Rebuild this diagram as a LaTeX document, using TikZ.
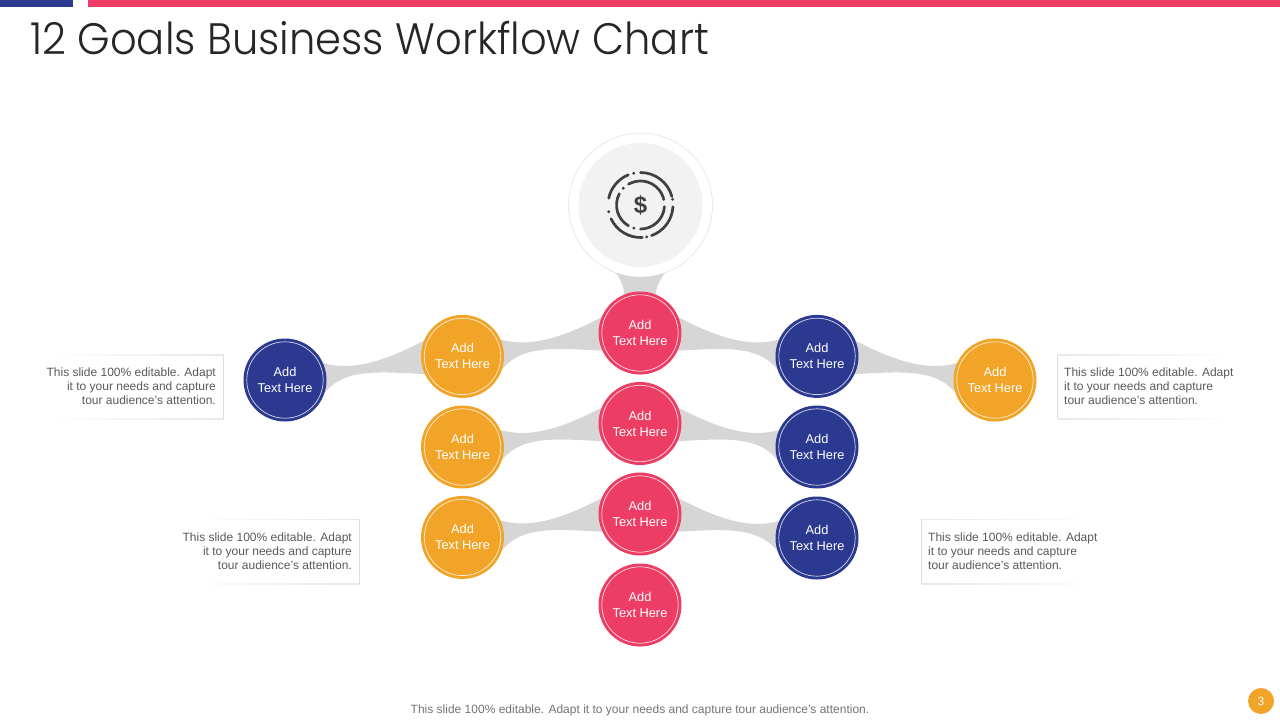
\documentclass[tikz,border=0pt]{standalone}
\usepackage{fontspec}
\setmainfont{Liberation Sans}
\newfontfamily\titlefont{Poppins}[UprightFont=* Light]
\usetikzlibrary{backgrounds}
\definecolor{goalpink}{HTML}{EE3D64}
\definecolor{goalorange}{HTML}{F1A428}
\definecolor{goalblue}{HTML}{2B3990}
\definecolor{ribbongray}{HTML}{D6D6D6}
\definecolor{boxgray}{HTML}{DDDDDD}
\definecolor{icongray}{HTML}{404040}
\tikzset{
    goal/.style={circle, minimum size=83pt, inner sep=0pt, text=white, align=center,
        font=\fontsize{12.8}{16}\selectfont,
        path picture={\draw[white, opacity=0.8, line width=0.7pt] (path picture bounding box.center) circle (38.2pt);}},
    ribbon/.style={fill=ribbongray},
    note/.style={inner sep=0pt, text=black!65, font=\fontsize{12}{14}\selectfont},
    iconline/.style={icongray, line width=2.7pt, line cap=round},
}
\begin{document}
\begin{tikzpicture}[x=1pt, y=-1pt]
        \useasboundingbox (0,0) rectangle (1280,720);
        % top bars and title
        \fill[goalblue] (0,0) rectangle (73,7);
        \fill[goalpink] (88,0) rectangle (1280,7);
        \node[anchor=west, inner sep=0pt, xscale=0.947, transform shape, text=black!85, font=\titlefont\fontsize{44}{50}\selectfont] (title) at (30,38) {12 Goals Business Workflow Chart};

        % hub
        \node[circle, draw=black!15, fill=white, minimum size=144pt, inner sep=0pt] (hub) at (640.5,205) {};
        \node[circle, fill=black!5, minimum size=124pt, inner sep=0pt] (hubin) at (640.5,205) {};
        \foreach \r/\s/\e in {32.5/-90/-15, 32.5/3/70, 32.5/87/155, 32.5/192/248, 24/240/343, 24/4/90, 24/120/208}{
            \draw[iconline] (hubin.center) ++(\s:\r) arc[start angle=\s, end angle=\e, radius=\r];
        }
        \foreach \r/\s in {32.5/258, 32.5/350, 32.5/79, 32.5/168, 24/224, 24/346, 24/106}{
            \fill[icongray] (hubin.center) ++(\s:\r) circle (1.6);
        }
        \node[text=icongray, inner sep=0pt, font=\bfseries\fontsize{24}{24}\selectfont] (dollar) at (hubin.center) {\$};

        % goals
        \foreach \n/\x/\y in {p1/640/333, p2/640/423.5, p3/640/514, p4/640/605}{
            \node[goal, fill=goalpink] (\n) at (\x,\y) {Add\\Text Here};
        }
        \foreach \n/\x/\y in {o1/462.5/356.4, o2/462.5/447, o3/462.5/537.4, o4/995/380}{
            \node[goal, fill=goalorange] (\n) at (\x,\y) {Add\\Text Here};
        }
        \foreach \n/\x/\y in {b1/817/356.4, b2/817/447, b3/817/538, b0/285/380}{
            \node[goal, fill=goalblue] (\n) at (\x,\y) {Add\\Text Here};
        }

        % ribbons behind the goals
        \begin{pgfonlayer}{background}
            \fill[ribbon] (hub.250) .. controls +(5,6) and +(-1,-8) .. (p1.112) -- (p1.68) .. controls +(1,-8) and +(-5,6) .. (hub.290) -- cycle;
            \foreach \a/\b in {o1/p1, o2/p2, o3/p3, b0/o1}{
                \fill[ribbon] (\a.24) .. controls +(32,9) and +(-35,18) .. (\b.158) -- (\b.205) .. controls +(-45,-2) and +(20,-25) .. (\a.-18) -- cycle;
            }
            \foreach \a/\b in {b1/p1, b2/p2, b3/p3, o4/b1}{
                \fill[ribbon] (\a.156) .. controls +(-32,9) and +(35,18) .. (\b.22) -- (\b.-25) .. controls +(45,-2) and +(-20,-25) .. (\a.198) -- cycle;
            }
        \end{pgfonlayer}

        % notes
        \node[note, anchor=east, align=right] (notea) at (216,386.5) {This slide 100\% editable. Adapt\\it to your needs and capture\\tour audience’s attention.};
        \node[note, anchor=east, align=right] (noteb) at (352,551.5) {This slide 100\% editable. Adapt\\it to your needs and capture\\tour audience’s attention.};
        \node[note, anchor=west, align=left] (notec) at (1064,386.5) {This slide 100\% editable. Adapt\\it to your needs and capture\\tour audience’s attention.};
        \node[note, anchor=west, align=left] (noted) at (928,551.5) {This slide 100\% editable. Adapt\\it to your needs and capture\\tour audience’s attention.};
        \foreach \xa/\xb/\ya/\yb in {50/223.5/355/419, 190/359.5/519.5/584}{
            \shade[left color=white, right color=boxgray!70] (\xa,\ya-0.4) rectangle (\xb,\ya+0.4);
            \shade[left color=white, right color=boxgray!70] (\xa,\yb-0.4) rectangle (\xb,\yb+0.4);
            \draw[boxgray, line width=0.8pt] (\xb,\ya-0.4) -- (\xb,\yb+0.4);
        }
        \foreach \xa/\xb/\ya/\yb in {1057.5/1235/355/419, 921.5/1098/519.5/584}{
            \shade[left color=boxgray!70, right color=white] (\xa,\ya-0.4) rectangle (\xb,\ya+0.4);
            \shade[left color=boxgray!70, right color=white] (\xa,\yb-0.4) rectangle (\xb,\yb+0.4);
            \draw[boxgray, line width=0.8pt] (\xa,\ya-0.4) -- (\xa,\yb+0.4);
        }

        % footer
        \node[inner sep=0pt, text=black!55, font=\fontsize{12}{14}\selectfont] (footer) at (640,710) {This slide 100\% editable. Adapt it to your needs and capture tour audience’s attention.};
        \node[circle, fill=goalorange, minimum size=26pt, inner sep=0pt, text=white, font=\fontsize{12}{14}\selectfont] (page) at (1261,701) {3};
    \end{tikzpicture}
\end{document}
